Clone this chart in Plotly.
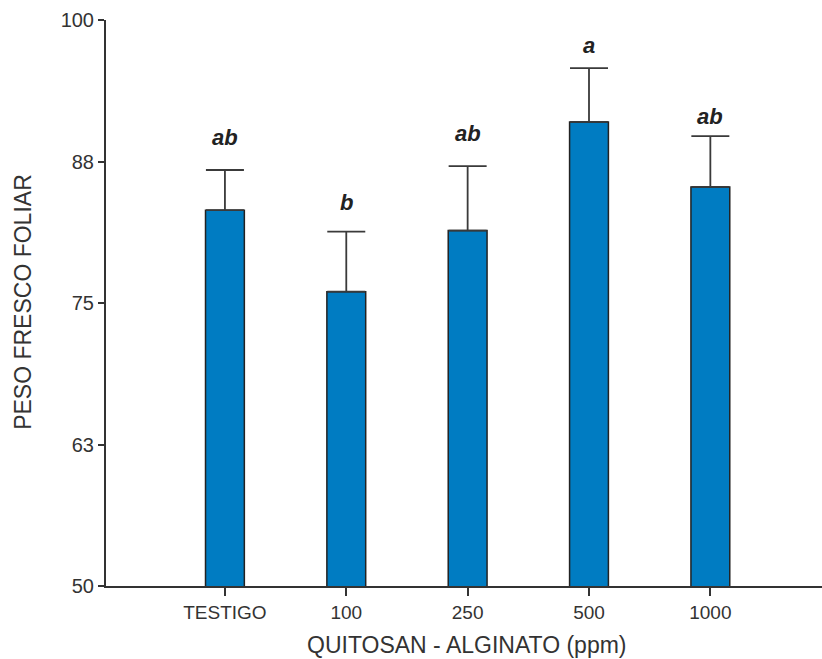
import plotly.graph_objects as go

categories = ["TESTIGO", "100", "250", "500", "1000"]
means = [83.2, 76.0, 81.4, 91.0, 85.25]
errors = [3.55, 5.3, 5.7, 4.75, 4.5]
letters = ["ab", "b", "ab", "a", "ab"]
letter_y = [88.8, 83.0, 89.1, 96.9, 90.6]

y_tickvals = [50, 62.5, 75, 87.5, 100]
y_ticktext = ["50", "63", "75", "88", "100"]

font_family = "Liberation Sans, Arial, sans-serif"
axis_color = "#333333"
xpos = list(range(len(categories)))

fig = go.Figure()
fig.add_trace(go.Bar(
    x=xpos,
    y=means,
    width=0.32,
    marker=dict(color="#007CC2", line=dict(color="#222222", width=1.5)),
    error_y=dict(type="data", array=errors, symmetric=False, arrayminus=[0]*5,
                 color="#3a3a3a", thickness=1.8, width=19),
))

for i, t, ly in zip(xpos, letters, letter_y):
    fig.add_annotation(x=i, y=ly, text="<b><i>%s</i></b>" % t, showarrow=False,
                       xanchor="center", yanchor="bottom", yshift=-5,
                       font=dict(family=font_family, size=22, color="#222222"))

fig.add_annotation(xref="paper", yref="paper", x=0.504, y=0, yshift=-59,
                   xanchor="center", yanchor="middle",
                   text="QUITOSAN - ALGINATO (ppm)", showarrow=False,
                   font=dict(family=font_family, size=23, color="#333333"))
fig.add_annotation(xref="paper", yref="paper", x=0, y=0.502, xshift=-83,
                   xanchor="center", yanchor="middle",
                   text="PESO FRESCO FOLIAR", textangle=-90, showarrow=False,
                   font=dict(family=font_family, size=23, color="#333333"))

# small extension of y axis below the x axis
fig.add_shape(type="line", xref="x domain", yref="y", x0=0, x1=0,
              ysizemode="pixel", yanchor=50, y0=0, y1=-9,
              line=dict(color=axis_color, width=2))

fig.update_layout(
    width=822, height=659,
    margin=dict(l=106, r=0, t=20, b=73),
    plot_bgcolor="white", paper_bgcolor="white",
    showlegend=False,
    font=dict(family=font_family, color="#333333"),
)
fig.update_xaxes(
    range=[-0.98, 4.92], tickvals=xpos, ticktext=categories,
    showline=True, linecolor=axis_color, linewidth=2,
    ticks="outside", ticklen=8, tickwidth=2, tickcolor=axis_color,
    tickfont=dict(size=19, family=font_family, color="#333333"),
    showgrid=False, zeroline=False,
)
fig.update_yaxes(
    range=[50, 100], tickvals=y_tickvals, ticktext=y_ticktext,
    showline=True, linecolor=axis_color, linewidth=2,
    ticks="outside", ticklen=6, tickwidth=2, tickcolor=axis_color,
    tickfont=dict(size=20, family=font_family, color="#333333"),
    showgrid=False, zeroline=False,
)

fig.write_html("out.html")
